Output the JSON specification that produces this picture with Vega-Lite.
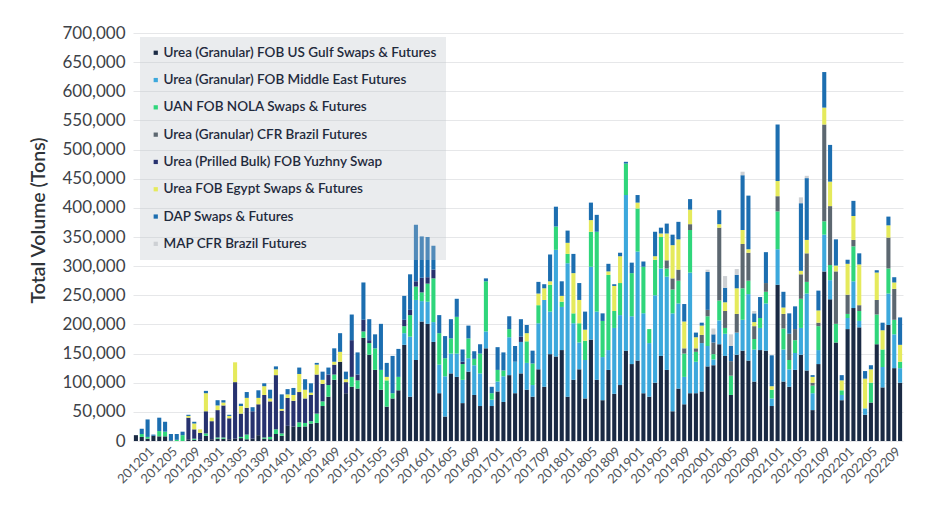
{
  "$schema": "https://vega.github.io/schema/vega-lite/v6.json",
  "autosize": {"type": "none"},
  "padding": {"left": 133, "top": 33, "right": 37, "bottom": 72},
  "width": 770,
  "height": 408,
  "background": "white",
  "config": {
    "view": {"stroke": null},
    "font": "Lato"
  },
  "data": {"values": [
    {"m":"201201","G":10000},
    {"m":"201202","G":7000,"U":5000,"D":9000},
    {"m":"201203","G":4000,"U":3000,"D":30000},
    {"m":"201204","G":9000,"D":2000},
    {"m":"201205","G":8000,"U":9000,"D":23000},
    {"m":"201206","G":8000,"U":8000,"D":17000},
    {"m":"201207","G":1000,"D":11000},
    {"m":"201208","U":2000,"D":10000},
    {"m":"201209","U":10000,"D":6000},
    {"m":"201210","G":3000,"Y":37000,"E":3000,"D":2000},
    {"m":"201211","G":2000,"U":2000,"Y":16000,"E":10000,"D":3000},
    {"m":"201212","G":2000,"Y":12000,"E":6000},
    {"m":"201301","G":9000,"U":4000,"Y":38000,"E":31000,"D":4000},
    {"m":"201302","G":3000,"Y":31000,"E":6000},
    {"m":"201303","G":4000,"U":2000,"Y":47000,"E":8000,"D":9000},
    {"m":"201304","G":4000,"U":2000,"Y":55000,"E":5000,"D":4000},
    {"m":"201305","G":3000,"Y":36000,"E":4000,"D":2000},
    {"m":"201306","G":4000,"Y":97000,"E":34000},
    {"m":"201307","G":5000,"U":2000,"Y":40000,"E":13000,"D":4000},
    {"m":"201308","G":3000,"U":8000,"Y":46000,"E":17000,"D":10000},
    {"m":"201309","G":4000,"Y":47000,"D":7000},
    {"m":"201310","G":10000,"Y":53000,"E":11000,"D":13000},
    {"m":"201311","G":4000,"U":2000,"Y":73000,"E":15000,"D":5000},
    {"m":"201312","G":3000,"U":4000,"Y":61000,"E":5000,"D":15000},
    {"m":"201401","G":12000,"U":8000,"Y":93000,"E":10000,"D":5000},
    {"m":"201402","G":9000,"U":4000,"Y":39000,"E":3000,"D":25000},
    {"m":"201403","G":26000,"Y":48000,"E":6000,"D":9000},
    {"m":"201404","G":25000,"Y":44000,"E":10000,"D":12000},
    {"m":"201405","G":24000,"U":8000,"Y":52000,"E":31000,"D":11000},
    {"m":"201406","G":25000,"U":6000,"Y":42000,"E":15000,"D":18000},
    {"m":"201407","G":30000,"U":4000,"Y":45000,"E":4000,"D":16000},
    {"m":"201408","G":31000,"U":16000,"Y":67000,"E":17000,"D":3000},
    {"m":"201409","G":60000,"U":8000,"Y":30000,"E":7000,"D":14000},
    {"m":"201410","G":76000,"U":20000,"Y":18000,"D":12000},
    {"m":"201411","G":105000,"U":9000,"Y":17000,"E":5000,"D":23000},
    {"m":"201412","G":136000,"E":17000,"D":32000},
    {"m":"201501","G":82000,"Y":19000,"E":5000,"D":13000},
    {"m":"201502","G":93000,"U":17000,"Y":63000,"D":44000},
    {"m":"201503","G":90000,"U":14000,"Y":10000,"D":38000},
    {"m":"201504","G":177000,"U":11000,"Y":20000,"D":64000},
    {"m":"201505","G":148000,"U":20000,"Y":5000,"D":36000},
    {"m":"201506","G":122000,"U":37000,"D":24000},
    {"m":"201507","G":88000,"U":34000,"D":79000},
    {"m":"201508","G":59000,"U":45000,"E":6000,"D":24000},
    {"m":"201509","G":73000,"U":9000,"D":64000},
    {"m":"201510","G":87000,"U":23000,"D":48000},
    {"m":"201511","G":165000,"M":20000,"U":12000,"Y":11000,"D":41000},
    {"m":"201512","G":76000,"M":103000,"U":37000,"Y":9000,"D":61000},
    {"m":"201601","G":139000,"M":103000,"U":23000,"Y":9000,"D":97000},
    {"m":"201602","G":205000,"M":35000,"U":15000,"Y":25000,"D":71000},
    {"m":"201603","G":201000,"M":38000,"U":31000,"Y":11000,"D":69000},
    {"m":"201604","G":170000,"M":34000,"U":75000,"Y":15000,"D":41000},
    {"m":"201605","G":82000,"M":49000,"U":54000,"D":31000},
    {"m":"201606","G":42000,"M":69000,"U":31000,"D":38000},
    {"m":"201607","G":116000,"M":34000,"U":26000,"D":33000},
    {"m":"201608","G":110000,"M":40000,"U":63000,"D":31000},
    {"m":"201609","G":65000,"M":40000,"U":27000,"Y":4000,"D":21000},
    {"m":"201610","G":119000,"M":23000,"U":34000,"D":22000},
    {"m":"201611","G":79000,"M":51000,"U":11000,"D":13000},
    {"m":"201612","G":60000,"M":56000,"U":34000,"D":16000},
    {"m":"201701","G":159000,"M":29000,"U":86000,"D":5000},
    {"m":"201702","G":60000,"M":11000,"U":11000,"D":11000},
    {"m":"201703","G":85000,"M":17000,"U":20000,"D":39000},
    {"m":"201704","G":67000,"M":44000,"U":10000,"D":31000},
    {"m":"201705","G":113000,"M":65000,"U":14000,"D":22000},
    {"m":"201706","G":82000,"M":54000,"D":27000},
    {"m":"201707","G":116000,"M":54000,"Y":9000,"D":30000},
    {"m":"201708","G":88000,"M":46000,"U":37000,"E":14000,"D":14000},
    {"m":"201709","G":76000,"M":20000,"U":37000,"D":22000},
    {"m":"201710","G":123000,"M":79000,"U":31000,"E":20000,"D":20000},
    {"m":"201711","G":93000,"M":149000,"E":20000,"D":7000},
    {"m":"201712","G":149000,"M":73000,"U":46000,"E":6000,"D":46000},
    {"m":"201801","G":145000,"M":183000,"U":40000,"D":34000},
    {"m":"201802","G":156000,"M":74000,"U":9000,"E":10000,"D":25000},
    {"m":"201803","G":76000,"M":229000,"U":16000,"E":19000,"D":21000},
    {"m":"201804","G":105000,"M":97000,"U":17000,"E":69000,"D":33000},
    {"m":"201805","G":123000,"M":46000,"U":33000,"E":40000,"D":29000},
    {"m":"201806","G":73000,"M":66000,"U":33000,"E":19000,"D":31000},
    {"m":"201807","G":174000,"M":125000,"U":60000,"E":20000,"D":30000},
    {"m":"201808","G":105000,"M":117000,"U":137000,"D":29000},
    {"m":"201809","G":70000,"M":74000,"U":62000,"D":13000},
    {"m":"201810","G":122000,"M":34000,"U":129000,"E":6000,"D":13000},
    {"m":"201811","G":81000,"M":113000,"U":29000,"E":43000,"D":3000},
    {"m":"201812","G":96000,"M":120000,"U":55000,"E":46000,"D":6000},
    {"m":"201901","G":155000,"M":267000,"U":54000,"D":3000},
    {"m":"201902","G":132000,"M":82000,"U":74000,"D":18000},
    {"m":"201903","G":138000,"M":187000,"U":74000,"E":10000,"D":13000},
    {"m":"201904","G":82000,"M":137000,"U":80000,"D":9000},
    {"m":"201905","G":76000,"M":92000,"U":24000},
    {"m":"201906","G":100000,"M":150000,"U":61000,"E":6000,"D":42000},
    {"m":"201907","G":146000,"M":150000,"U":54000,"E":6000,"D":10000},
    {"m":"201908","G":122000,"M":160000,"U":14000,"B":14000,"E":46000,"D":17000},
    {"m":"201909","G":51000,"M":168000,"U":41000,"B":19000,"E":57000,"D":18000},
    {"m":"201910","G":90000,"M":146000,"U":39000,"B":19000,"E":52000,"D":30000},
    {"m":"201911","G":63000,"M":47000,"U":40000,"B":9000,"E":46000,"D":30000},
    {"m":"201912","G":82000,"M":207000,"U":73000,"B":10000,"E":25000,"D":18000},
    {"m":"202001","G":82000,"M":54000,"U":17000,"B":6000,"E":19000,"D":8000},
    {"m":"202002","G":85000,"M":83000,"B":14000,"E":16000,"D":5000},
    {"m":"202003","G":128000,"M":35000,"U":51000,"B":11000,"D":65000,"P":4000},
    {"m":"202004","G":130000,"M":10000,"U":9000,"B":20000,"D":14000,"P":10000},
    {"m":"202005","G":166000,"M":41000,"U":34000,"B":125000,"E":6000,"D":24000},
    {"m":"202006","G":146000,"M":38000,"U":10000,"B":29000,"E":15000,"D":25000,"P":20000},
    {"m":"202007","G":79000,"U":33000,"B":25000,"D":26000,"P":20000},
    {"m":"202008","G":148000,"M":38000,"B":32000,"E":44000,"D":23000,"P":10000},
    {"m":"202009","G":155000,"M":53000,"U":54000,"B":76000,"E":24000,"D":94000,"P":6000},
    {"m":"202010","G":138000,"M":114000,"U":23000,"B":48000,"E":6000,"D":92000},
    {"m":"202011","G":102000,"M":55000,"U":18000,"B":22000,"E":7000,"D":15000,"P":4000},
    {"m":"202012","G":156000,"M":38000,"U":17000,"D":36000},
    {"m":"202101","G":155000,"M":81000,"U":20000,"B":15000,"D":53000},
    {"m":"202102","G":60000,"M":13000,"U":15000,"E":6000,"D":53000},
    {"m":"202103","G":268000,"M":61000,"U":65000,"B":26000,"E":26000,"D":97000},
    {"m":"202104","G":102000,"M":55000,"U":36000,"B":25000,"E":11000,"D":27000},
    {"m":"202105","G":93000,"M":30000,"U":16000,"B":45000,"D":35000},
    {"m":"202106","G":122000,"M":29000,"U":22000,"B":19000,"D":39000},
    {"m":"202107","G":148000,"M":46000,"U":50000,"B":42000,"E":6000,"D":116000,"P":10000},
    {"m":"202108","G":121000,"M":132000,"U":20000,"B":49000,"E":23000,"D":106000,"P":4000},
    {"m":"202109","G":53000,"M":29000,"U":13000,"B":5000,"E":10000,"D":3000},
    {"m":"202110","G":132000,"M":24000,"U":41000,"B":6000,"E":21000,"D":34000},
    {"m":"202111","G":291000,"M":63000,"U":23000,"B":166000,"E":29000,"D":61000},
    {"m":"202112","G":243000,"M":33000,"U":26000,"B":101000,"E":42000,"D":63000},
    {"m":"202201","G":169000,"U":32000,"B":90000,"E":10000,"D":45000},
    {"m":"202202","G":70000,"M":9000,"U":8000,"E":17000,"D":9000},
    {"m":"202203","G":192000,"M":19000,"U":7000,"B":33000,"E":53000,"D":7000},
    {"m":"202204","G":228000,"M":46000,"U":60000,"B":11000,"E":41000,"D":26000},
    {"m":"202205","G":195000,"M":11000,"U":17000,"B":10000,"E":70000,"D":19000},
    {"m":"202206","G":45000,"M":11000,"E":51000,"D":13000},
    {"m":"202207","G":66000,"U":34000,"E":23000,"D":7000},
    {"m":"202208","G":166000,"U":51000,"B":25000,"E":47000,"D":4000},
    {"m":"202209","G":92000,"M":35000,"U":30000,"E":33000,"D":13000},
    {"m":"202210","G":199000,"M":54000,"U":43000,"B":53000,"E":21000,"D":15000},
    {"m":"202211","G":125000,"M":58000,"U":25000,"B":53000,"E":11000,"D":9000},
    {"m":"202212","G":100000,"M":25000,"U":11000,"E":29000,"D":47000}
  ]},
  "transform": [
    {"fold": ["G","M","U","B","Y","E","D","P"], "as": ["key","value"]},
    {"filter": "datum.value > 0"},
    {"calculate": "indexof(['G','M','U','B','Y','E','D','P'], datum.key)", "as": "o"}
  ],
  "mark": {"type": "bar"},
  "encoding": {
    "x": {
      "field": "m", "type": "ordinal",
      "scale": {"paddingInner": 0.3, "paddingOuter": 0.15},
      "axis": {
        "title": null,
        "values": ["201201","201205","201209","201301","201305","201309","201401","201405","201409","201501","201505","201509","201601","201605","201609","201701","201705","201709","201801","201805","201809","201901","201905","201909","202001","202005","202009","202101","202105","202109","202201","202205","202209"],
        "labelAngle": -45,
        "labelAlign": "center",
        "labelBaseline": "middle",
        "labelPadding": 24,
        "labelFontSize": 13,
        "labelColor": "#50555b",
        "ticks": false,
        "domain": false,
        "grid": false
      }
    },
    "y": {
      "field": "value", "type": "quantitative", "stack": "zero",
      "scale": {"domain": [0, 700000], "nice": false},
      "axis": {
        "title": "Total Volume (Tons)",
        "values": [0,50000,100000,150000,200000,250000,300000,350000,400000,450000,500000,550000,600000,650000,700000],
        "format": ",d",
        "labelFontSize": 17,
        "labelColor": "#3d4247",
        "labelPadding": 8,
        "ticks": false,
        "domain": false,
        "grid": true,
        "gridColor": "#e6e7e9",
        "gridWidth": 1,
        "titleFontSize": 19.5,
        "titleFontWeight": 600,
        "titleColor": "#2f3338",
        "titleX": -95,
        "titleY": 187,
        "titleAlign": "center",
        "titleBaseline": "middle",
        "titleAngle": -90
      }
    },
    "color": {
      "field": "key", "type": "nominal",
      "scale": {
        "domain": ["G","M","U","B","Y","E","D","P"],
        "range": ["#1a2a44","#3ca8dc","#2fd67b","#5c6770","#27326f","#e5ea5c","#1c6eb0","#cdd0d4"]
      },
      "legend": {
        "title": null,
        "orient": "none",
        "legendX": 7,
        "legendY": 4,
        "direction": "vertical",
        "fillColor": "rgba(190,196,204,0.33)",
        "padding": 9,
        "symbolType": "square",
        "symbolSize": 18,
        "symbolStrokeWidth": 0,
        "labelFontSize": 13.5,
        "labelFontWeight": 600,
        "labelColor": "#1f2a3c",
        "labelOffset": 1,
        "rowPadding": 12.3,
        "labelLimit": 400,
        "labelExpr": "datum.label == 'G' ? 'Urea (Granular) FOB US Gulf Swaps & Futures' : datum.label == 'M' ? 'Urea (Granular) FOB Middle East Futures' : datum.label == 'U' ? 'UAN FOB NOLA Swaps & Futures' : datum.label == 'B' ? 'Urea (Granular) CFR Brazil Futures' : datum.label == 'Y' ? 'Urea (Prilled Bulk) FOB Yuzhny Swap' : datum.label == 'E' ? 'Urea FOB Egypt Swaps & Futures' : datum.label == 'D' ? 'DAP Swaps & Futures' : 'MAP CFR Brazil Futures'"
      }
    },
    "order": {"field": "o", "type": "quantitative", "sort": "ascending"}
  }
}
